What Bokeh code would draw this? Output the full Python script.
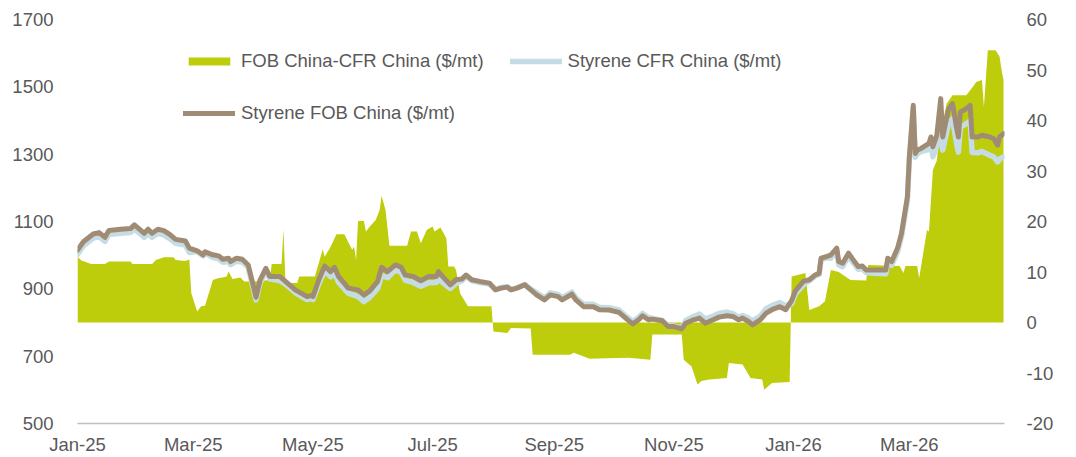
import pandas as pd
from bokeh.plotting import figure
from bokeh.models import (Range1d, LinearAxis, FixedTicker, DatetimeTickFormatter,
                          PrintfTickFormatter, Legend, LegendItem, ColumnDataSource)
from bokeh.embed import file_html
from bokeh.resources import INLINE

# ---------------- data ----------------
price_dates = [
    "2025-01-01", "2025-01-04", "2025-01-09", "2025-01-12", "2025-01-15", "2025-01-17", "2025-01-23",
    "2025-01-28", "2025-01-30", "2025-02-02", "2025-02-04", "2025-02-06", "2025-02-08", "2025-02-11",
    "2025-02-14", "2025-02-17", "2025-02-20", "2025-02-25", "2025-02-27", "2025-03-03", "2025-03-06",
    "2025-03-07", "2025-03-11", "2025-03-14", "2025-03-16", "2025-03-19", "2025-03-20", "2025-03-23",
    "2025-03-26", "2025-03-29", "2025-04-01", "2025-04-02", "2025-04-04", "2025-04-07", "2025-04-09",
    "2025-04-14", "2025-04-17", "2025-04-22", "2025-04-28", "2025-04-30", "2025-05-01", "2025-05-04",
    "2025-05-07", "2025-05-10", "2025-05-12", "2025-05-14", "2025-05-19", "2025-05-24", "2025-05-27",
    "2025-05-30", "2025-06-03", "2025-06-05", "2025-06-08", "2025-06-12", "2025-06-15", "2025-06-17",
    "2025-06-21", "2025-06-25", "2025-06-29", "2025-07-03", "2025-07-04", "2025-07-06", "2025-07-10",
    "2025-07-13", "2025-07-16", "2025-07-18", "2025-07-21", "2025-07-25", "2025-07-30", "2025-08-02",
    "2025-08-05", "2025-08-08", "2025-08-10", "2025-08-13", "2025-08-17", "2025-08-19", "2025-08-23",
    "2025-08-27", "2025-08-30", "2025-09-03", "2025-09-05", "2025-09-10", "2025-09-12", "2025-09-16",
    "2025-09-21", "2025-09-24", "2025-09-29", "2025-10-04", "2025-10-08", "2025-10-11", "2025-10-14",
    "2025-10-16", "2025-10-19", "2025-10-21", "2025-10-26", "2025-10-29", "2025-11-01", "2025-11-05",
    "2025-11-07", "2025-11-11", "2025-11-14", "2025-11-17", "2025-11-21", "2025-11-24", "2025-11-28",
    "2025-12-01", "2025-12-04", "2025-12-06", "2025-12-09", "2025-12-11", "2025-12-15", "2025-12-18",
    "2025-12-21", "2025-12-25", "2025-12-28", "2025-12-31", "2026-01-02", "2026-01-06", "2026-01-09",
    "2026-01-12", "2026-01-14", "2026-01-15", "2026-01-18", "2026-01-20", "2026-01-23", "2026-01-24",
    "2026-01-26", "2026-01-29", "2026-02-01", "2026-02-03", "2026-02-05", "2026-02-07", "2026-02-17",
    "2026-02-18", "2026-02-20", "2026-02-23", "2026-02-25", "2026-02-28", "2026-03-01", "2026-03-03",
    "2026-03-04", "2026-03-05", "2026-03-07", "2026-03-11", "2026-03-12", "2026-03-13", "2026-03-15",
    "2026-03-17", "2026-03-18", "2026-03-21", "2026-03-23", "2026-03-25", "2026-03-26", "2026-03-27",
    "2026-03-30", "2026-04-01", "2026-04-02", "2026-04-05", "2026-04-07", "2026-04-11", "2026-04-13",
    "2026-04-15", "2026-04-16", "2026-04-18",
]

styrene_fob_china = [
    1015, 1040, 1063, 1067, 1053, 1073, 1077, 1079, 1090, 1075, 1065, 1077, 1065, 1077,
    1073, 1062, 1047, 1042, 1021, 1013, 1001, 1010, 1001, 998, 988, 991, 981, 991,
    988, 971, 900, 875, 925, 961, 937, 937, 922, 897, 877, 880, 877, 927,
    968, 951, 964, 937, 902, 897, 882, 894, 922, 964, 951, 971, 964, 941,
    937, 924, 937, 937, 951, 937, 912, 927, 929, 941, 927, 922, 917, 897,
    902, 905, 897, 902, 912, 902, 882, 867, 882, 877, 867, 884, 867, 847,
    847, 838, 837, 830, 810, 796, 808, 820, 808, 810, 805, 788, 788, 781,
    798, 808, 813, 798, 808, 816, 820, 818, 808, 813, 803, 793, 808, 828,
    838, 847, 838, 865, 895, 922, 927, 941, 946, 991, 996, 1001, 1021, 981,
    976, 1006, 981, 966, 968, 956, 956, 991, 981, 1021, 1065, 1173, 1292, 1445,
    1302, 1312, 1317, 1332, 1351, 1322, 1356, 1465, 1351, 1435, 1450, 1380, 1351, 1425,
    1435, 1445, 1351, 1351, 1356, 1351, 1346, 1327, 1351, 1361,
]

styrene_cfr_china = [
    1002, 1028, 1051, 1055, 1041, 1061, 1065, 1067, 1078, 1063, 1053, 1065, 1053, 1065,
    1060, 1049, 1035, 1030, 1008, 1011, 998, 1007, 993, 989, 979, 981, 972, 982,
    980, 963, 892, 867, 917, 953, 929, 925, 914, 889, 868, 871, 868, 915,
    955, 936, 948, 920, 887, 877, 862, 875, 901, 939, 933, 956, 949, 926,
    919, 908, 918, 919, 932, 919, 901, 917, 924, 938, 924, 919, 914, 899,
    904, 907, 898, 903, 913, 903, 888, 873, 888, 883, 873, 890, 873, 854,
    854, 845, 844, 837, 817, 803, 815, 827, 815, 812, 807, 790, 790, 783,
    806, 818, 825, 810, 819, 827, 831, 826, 816, 821, 813, 804, 819, 841,
    850, 859, 850, 856, 886, 912, 924, 938, 943, 987, 992, 991, 1011, 971,
    966, 997, 973, 958, 960, 948, 945, 980, 970, 1010, 1055, 1162, 1281, 1434,
    1291, 1301, 1308, 1314, 1331, 1292, 1324, 1428, 1312, 1391, 1405, 1335, 1306, 1380,
    1390, 1399, 1305, 1304, 1308, 1297, 1292, 1277, 1285, 1292,
]

spread_dates = [
    "2025-01-01", "2025-01-03", "2025-01-08", "2025-01-15", "2025-01-17", "2025-01-28", "2025-01-29",
    "2025-02-08", "2025-02-10", "2025-02-14", "2025-02-19", "2025-02-20", "2025-02-25", "2025-02-27",
    "2025-02-28", "2025-03-03", "2025-03-05", "2025-03-07", "2025-03-11", "2025-03-14", "2025-03-16",
    "2025-03-18", "2025-03-19", "2025-03-21", "2025-03-25", "2025-03-27", "2025-03-31", "2025-04-09",
    "2025-04-10", "2025-04-15", "2025-04-16", "2025-04-17", "2025-04-23", "2025-04-24", "2025-05-02",
    "2025-05-06", "2025-05-07", "2025-05-10", "2025-05-13", "2025-05-17", "2025-05-21", "2025-05-22",
    "2025-05-23", "2025-05-24", "2025-05-27", "2025-05-28", "2025-05-30", "2025-06-02", "2025-06-04",
    "2025-06-05", "2025-06-07", "2025-06-09", "2025-06-18", "2025-06-20", "2025-06-23", "2025-06-25",
    "2025-06-28", "2025-07-01", "2025-07-02", "2025-07-05", "2025-07-08", "2025-07-09", "2025-07-12",
    "2025-07-13", "2025-07-15", "2025-07-19", "2025-07-31", "2025-08-01", "2025-08-08", "2025-08-10",
    "2025-08-20", "2025-08-21", "2025-09-09", "2025-09-11", "2025-09-19", "2025-09-28", "2025-10-09",
    "2025-10-20", "2025-10-21", "2025-11-05", "2025-11-06", "2025-11-10", "2025-11-13", "2025-11-15",
    "2025-11-19", "2025-11-28", "2025-11-29", "2025-12-06", "2025-12-09", "2025-12-10", "2025-12-16",
    "2025-12-17", "2025-12-21", "2025-12-30", "2025-12-31", "2026-01-07", "2026-01-09", "2026-01-14",
    "2026-01-17", "2026-01-20", "2026-01-24", "2026-01-30", "2026-02-07", "2026-02-08", "2026-02-24",
    "2026-02-26", "2026-02-27", "2026-03-05", "2026-03-06", "2026-03-10", "2026-03-11", "2026-03-13",
    "2026-03-15", "2026-03-16", "2026-03-20", "2026-03-23", "2026-03-30", "2026-04-01", "2026-04-03",
    "2026-04-04", "2026-04-07", "2026-04-08", "2026-04-10", "2026-04-14", "2026-04-16", "2026-04-17",
    "2026-04-18",
]

fob_minus_cfr = [
    13.0, 12.3, 11.6, 11.6, 12.1, 12.1, 11.6,
    11.6, 12.4, 12.9, 12.9, 12.4, 12.2, 12.5,
    5.8, 2.2, 3.2, 3.3, 8.4, 8.8, 8.9,
    9.1, 10.1, 8.6, 8.9, 8.1, 8.1, 8.4,
    11.6, 11.6, 18.4, 7.8, 7.8, 9.1, 9.1,
    14.5, 13.0, 15.0, 17.5, 17.5, 14.4, 15.0,
    12.4, 20.1, 20.1, 18.0, 19.0, 20.3, 22.3,
    25.1, 22.3, 15.2, 15.2, 18.0, 18.0, 15.7,
    18.3, 19.0, 18.0, 18.8, 16.7, 11.1, 11.1,
    10.3, 5.8, 3.2, 3.2, -1.8, -2.1, -1.1,
    -1.2, -6.4, -6.4, -6.0, -7.2, -7.1, -7.0,
    -7.4, -2.4, -2.4, -7.4, -8.7, -12.3, -11.6,
    -11.3, -11.0, -8.0, -8.3, -10.3, -11.0, -11.3,
    -13.3, -12.0, -11.8, 9.1, 9.8, 2.5, 3.2,
    4.2, 10.4, 10.0, 8.4, 8.3, 11.4, 11.2,
    9.8, 11.2, 11.2, 8.8, 18.3, 18.0, 30.2,
    32.1, 36.1, 43.3, 45.0, 45.0, 46.0, 47.0,
    47.6, 48.0, 42.7, 53.9, 53.9, 52.6, 50.0,
    48.0,
]

x_tick_dates = ["2025-01-01", "2025-03-01", "2025-05-01", "2025-07-01", "2025-09-01",
                "2025-11-01", "2026-01-01", "2026-03-01"]
left_ticks = [500, 700, 900, 1100, 1300, 1500, 1700]
right_ticks = [-20, -10, 0, 10, 20, 30, 40, 50, 60]

# ---------------- styles ----------------
GREEN = "#BECD0B"
BROWN = "#A08C74"
BLUE = "#C6DCE4"
TEXT = "#595959"
FONT = "Liberation Sans"
FSIZE = "18.5px"

price_src = ColumnDataSource(dict(x=pd.to_datetime(price_dates), fob=styrene_fob_china,
                                  cfr=styrene_cfr_china))
spread_src = ColumnDataSource(dict(x=pd.to_datetime(spread_dates), y=fob_minus_cfr))

p = figure(width=1076, height=457, x_axis_type="datetime",
           x_range=Range1d(pd.Timestamp("2025-01-01"), pd.Timestamp("2026-04-18 12:00")),
           y_range=Range1d(500, 1700),
           output_backend="svg", toolbar_location=None,
           min_border_left=77, min_border_right=72, min_border_top=19, min_border_bottom=33)
p.outline_line_color = None
p.xgrid.grid_line_color = None
p.ygrid.grid_line_color = None
p.background_fill_color = "white"
p.border_fill_color = "white"

p.extra_y_ranges = {"right": Range1d(-20, 60)}

r_area = p.varea(x="x", y1=0, y2="y", source=spread_src, y_range_name="right",
                 fill_color=GREEN, fill_alpha=1.0)
r_cfr = p.line("x", "cfr", source=price_src, line_color=BLUE, line_width=5.5,
               line_join="round", line_cap="round")
r_fob = p.line("x", "fob", source=price_src, line_color=BROWN, line_width=5,
               line_join="round", line_cap="round")

# axes
xa = p.xaxis[0]
xa.ticker = FixedTicker(ticks=[pd.Timestamp(d).value // 10**6 for d in x_tick_dates])
xa.formatter = DatetimeTickFormatter(days="%b-%y", months="%b-%y", years="%b-%y",
                                     hours="%b-%y", minutes="%b-%y")
xa.axis_line_color = "#BFBFBF"
xa.axis_line_width = 1.5
xa.major_tick_line_color = None
xa.minor_tick_line_color = None
xa.major_label_standoff = 4
xa.major_label_text_font = FONT
xa.major_label_text_font_size = FSIZE
xa.major_label_text_color = TEXT

ya = p.yaxis[0]
ya.ticker = FixedTicker(ticks=left_ticks)
ya.formatter = PrintfTickFormatter(format="%d")
ya.axis_line_color = None
ya.major_tick_line_color = None
ya.minor_tick_line_color = None
ya.major_label_standoff = 18
ya.major_label_text_font = FONT
ya.major_label_text_font_size = FSIZE
ya.major_label_text_color = TEXT

ra = LinearAxis(y_range_name="right", ticker=FixedTicker(ticks=right_ticks),
                formatter=PrintfTickFormatter(format="%d"))
ra.axis_line_color = None
ra.major_tick_line_color = None
ra.minor_tick_line_color = None
ra.major_label_standoff = 16
ra.major_label_text_font = FONT
ra.major_label_text_font_size = FSIZE
ra.major_label_text_color = TEXT
p.add_layout(ra, "right")

def style_legend(lg):
    lg.border_line_color = None
    lg.background_fill_alpha = 0
    lg.padding = 0
    lg.margin = 0
    lg.spacing = 26
    lg.label_standoff = 6
    lg.glyph_width = 52
    lg.glyph_height = 10
    lg.label_text_font = FONT
    lg.label_text_font_size = FSIZE
    lg.label_text_color = TEXT

leg1 = Legend(items=[LegendItem(label="FOB China-CFR China ($/mt)", renderers=[r_area]),
                     LegendItem(label="Styrene CFR China ($/mt)", renderers=[r_cfr])],
              orientation="horizontal", location=(106, 351))
leg2 = Legend(items=[LegendItem(label="Styrene FOB China ($/mt)", renderers=[r_fob])],
              orientation="horizontal", location=(106, 299))
style_legend(leg1)
style_legend(leg2)
p.add_layout(leg1)
p.add_layout(leg2)

open("out.html", "w").write(file_html(p, INLINE))
